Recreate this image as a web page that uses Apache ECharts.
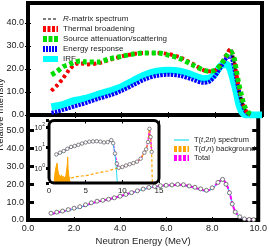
<!DOCTYPE html>
<html><head><meta charset="utf-8">
<script src="https://cdn.jsdelivr.net/npm/echarts@6/dist/echarts.min.js"></script>
<style>html,body{margin:0;padding:0;background:#fff}#c{width:270px;height:247px}</style>
</head><body><div id="c"></div>
<script>
// ---------- data ----------
const energyTop = [1.0,1.25,1.5,1.75,2.0,2.25,2.5,3.0,3.5,4.0,4.5,5.0,5.5,6.0,6.5,7.0,7.5,7.75,8.0,8.25,8.5,8.65,8.8,8.9,9.0,9.1,9.2,9.3,9.4,9.5,9.75,10.0];
const rMatrix   = [10.5,13,16,19.5,22,22.5,22,22.5,24,25.5,26.5,27,27,26.5,25,22.5,19.5,19,19.5,22.5,27,29,24,17,11,7,4,1.8,0.6,0.2,null,null];
const thermal   = [10.5,13,16,19.5,22,22.5,22,22.5,24,25.5,26.5,27,27,26.5,25,22.5,19.5,19,19.5,22,26.5,28.5,24,18,12.5,8,4.5,2,0.8,0.3,null,null];
const sourceAtt = [17.5,19,21,22,23,23.5,23,23,24.5,25.5,26.5,27,27,26,24.5,22,19.5,19,19.5,22,26,27.5,25,19.5,14,9.5,5.5,2.8,1.2,0.4,null,null];
const energyResp= [1,1.5,2.2,3,3.8,4.5,5.3,7,8.5,10.5,13,15.5,17,17.5,17,15.5,14,14.5,17,21,25,25.5,21,16,11,7,3.5,1.5,0.5,0.2,null,null];
const irf       = [3.5,4,4.5,5.5,6.3,6.8,7.3,9,10.5,12.3,15,17.5,19,19.5,19,17.5,15.8,16,18,21.5,22,19.5,14,10,5,2,0.5,0,0,0,0,0];

const energyBot = [1.0,1.25,1.5,1.75,2.0,2.25,2.5,2.75,3.0,3.25,3.5,3.75,4.0,4.25,4.5,4.75,5.0,5.25,5.5,5.75,6.0,6.25,6.5,6.75,7.0,7.25,7.5,7.75,8.0,8.25,8.45,8.6,8.75,8.87,9.0,9.2,9.4,9.6,9.8];
const measured  = [3.8,4.4,5.0,5.8,6.6,7.4,8.5,9.6,10.5,11.0,11.6,12.4,13.3,14.3,15.3,16.3,17.3,18.2,18.8,19.2,19.4,19.6,19.9,19.7,19.0,18.3,17.4,16.6,18.0,21.0,22.7,20.0,15.2,9.0,4.5,1.8,0.6,0.3,0.2];
const t2nSpec   = [3.2,3.9,4.6,5.4,6.2,7.0,8.0,9.1,10.0,10.7,11.4,12.2,13.1,14.1,15.1,16.1,17.1,17.9,18.5,18.9,19.2,19.3,19.5,19.3,18.7,17.8,16.8,16.0,17.5,20.6,22.3,20.2,15.5,9.5,4.8,1.6,0.4,0.1,0];
const totalSpec = [3.4,4.1,4.8,5.6,6.4,7.2,8.2,9.3,10.2,10.9,11.6,12.4,13.3,14.3,15.3,16.3,17.3,18.1,18.7,19.1,19.4,19.5,19.7,19.5,18.9,18.0,17.1,16.3,17.8,20.9,22.6,20.4,15.6,9.4,4.8,1.8,0.6,0.3,0.2];

const insetE       = [1.0,1.5,2.0,2.5,3.0,3.5,4.0,4.5,5.0,5.5,6.0,6.5,7.0,7.5,8.0,8.5,8.75,9.0,9.25,9.5,10.0,10.5,11.0,11.5,12.0,12.5,13.0,13.25,13.5,13.7,13.85,14.0];
const insetMeas    = [4.5,5.5,6.6,8.5,10.5,11.6,13.3,15.3,17.3,18.8,19.4,19.9,19,17.4,18,22.5,16,5,1.6,1.0,1.1,1.3,1.5,1.7,2.0,2.8,5.5,8,18,80,32,6];
const insetTotal   = [4.3,5.3,6.4,8.3,10.3,11.5,13.2,15.2,17.2,18.7,19.3,19.8,18.9,17.2,17.8,22.3,16,5,1.6,1.0,1.1,1.3,1.5,1.7,2.0,2.8,5.5,8,18,80,32,6];
const insetT2nE    = [1.0,1.5,2.0,2.5,3.0,3.5,4.0,4.5,5.0,5.5,6.0,6.5,7.0,7.5,8.0,8.5,8.75,9.0,9.15,9.25,9.35];
const insetT2n     = [4.1,5.1,6.2,8.1,10.1,11.3,13.0,15.0,17.0,18.5,19.1,19.6,18.7,17.0,17.6,22.0,15.5,4.5,1.2,0.4,0.1];
const bgNoiseE     = [0.7,0.8,0.9,1.0,1.1,1.2,1.3,1.4,1.5,1.6,1.7,1.8,1.9,2.0,2.1,2.2,2.3,2.4,2.5,2.55,2.6,2.7,2.8,2.9,3.0];
const bgNoise      = [0.2,0.5,0.9,1.1,1.7,0.8,0.5,0.4,0.6,0.35,0.45,0.3,0.4,0.3,0.35,0.3,0.4,0.5,1.5,3.4,0.9,0.4,0.3,0.35,0.3];
const bgE          = [3.0,3.5,4.0,4.5,5.0,5.5,6.0,6.5,7.0,7.5,8.0,8.5,9.0,9.5,10.0,10.5,11.0,11.5,12.0,12.5,13.0,13.25,13.5,13.7,13.85,14.0,14.1];
const bgDN         = [0.32,0.35,0.38,0.4,0.42,0.45,0.5,0.55,0.6,0.65,0.7,0.8,0.9,1.0,1.1,1.3,1.5,1.7,2.0,2.8,5.5,8,18,80,32,6,0.1];

const yTicksTop = [0,10,20,30,40];
const yTicksBot = [0,10,20,30,40,50];

// ---------- helpers ----------
const pairs = (xs, ys) => xs.map((x,i)=>[x, ys[i]]).filter(p => p[1] !== null);
const FONT = "Liberation Sans";
const TXT = '#222';
const noSym = {color:'rgba(0,0,0,0)', borderWidth:0, opacity:0};

const thinTick = {show:true, inside:true, length:3, lineStyle:{color:'#000', width:1}};
const thickTick = {show:true, inside:true, length:6, lineStyle:{color:'#000', width:3}};
const labY = vals => ({show:true, interval:0, hideOverlap:false, showMinLabel:true, showMaxLabel:true, customValues:vals,
  fontSize:9, color:TXT, fontFamily:FONT, margin:4, formatter:v=>v.toFixed(1)});

const chart = echarts.init(document.getElementById('c'));
chart.setOption({
  animation:false,
  backgroundColor:'#fff',
  textStyle:{fontFamily:FONT},
  grid:[
    {left:28, right:8, top:3, height:112, show:true, borderColor:'#000', borderWidth:4, backgroundColor:'transparent'},
    {left:28, right:8, top:115, height:111, show:true, borderColor:'#000', borderWidth:4, backgroundColor:'transparent'},
    {left:49, width:110, top:120.5, height:62.5, show:true, borderWidth:0, backgroundColor:'#fff'},
    {left:28, right:8, top:3, height:223, show:false, outerBoundsMode:'none'}
  ],
  xAxis:[
    {gridIndex:0, type:'value', position:'bottom', min:0, max:10, interval:2, axisLine:{show:false}, axisTick:thinTick, axisLabel:{show:false}, splitLine:{show:false}},
    {gridIndex:0, type:'value', position:'top', min:0, max:10, interval:2, axisLine:{show:false}, axisTick:thinTick, axisLabel:{show:false}, splitLine:{show:false}},
    {gridIndex:1, type:'value', position:'bottom', min:0, max:10, interval:2, axisLine:{show:false}, axisTick:thinTick,
      axisLabel:{fontSize:9, color:TXT, fontFamily:FONT, margin:4, formatter:v=>v.toFixed(1)}, splitLine:{show:false},
      name:'Neutron Energy (MeV)', nameLocation:'middle', nameGap:16, nameTextStyle:{fontSize:9.5, color:TXT, fontFamily:FONT}},
    {gridIndex:2, type:'value', position:'bottom', min:0, max:15, interval:5, axisLine:{show:false}, axisTick:thinTick,
      axisLabel:{fontSize:8, color:TXT, fontFamily:FONT, margin:4}, splitLine:{show:false}},
    {gridIndex:2, type:'value', position:'top', min:0, max:15, interval:5, axisLine:{show:false}, axisTick:thinTick, axisLabel:{show:false}, splitLine:{show:false}},
    {gridIndex:3, type:'value', min:0, max:1, axisLine:{show:false}, axisTick:{show:false}, axisLabel:{show:false}, splitLine:{show:false}}
  ],
  yAxis:[
    {gridIndex:0, type:'value', position:'left', min:0, max:48.7, interval:10, axisLine:{show:false},
      axisTick:Object.assign({customValues:yTicksTop}, thinTick), axisLabel:labY(yTicksTop), splitLine:{show:false}},
    {gridIndex:0, type:'value', position:'right', min:0, max:48.7, interval:10, axisLine:{show:false},
      axisTick:Object.assign({customValues:yTicksTop}, thinTick), axisLabel:{show:false}, splitLine:{show:false}},
    {gridIndex:1, type:'value', position:'left', min:0, max:58.7, interval:10, axisLine:{show:false},
      axisTick:Object.assign({customValues:yTicksBot}, thickTick), axisLabel:labY(yTicksBot), splitLine:{show:false}},
    {gridIndex:1, type:'value', position:'right', min:0, max:58.7, interval:10, axisLine:{show:false},
      axisTick:Object.assign({customValues:yTicksBot}, thickTick), axisLabel:{show:false}, splitLine:{show:false}},
    {gridIndex:2, type:'log', position:'left', logBase:10, min:0.182, max:204, axisLine:{show:false},
      axisTick:{show:true, inside:false, length:3, lineStyle:{color:'#000', width:3}},
      axisLabel:{color:TXT, margin:4, formatter:v=>{const l=Math.log10(v); const e=Math.round(l); if(Math.abs(l-e)>1e-4) return ''; return '{b|10}{s|'+e+'}';},
        rich:{b:{fontSize:7, color:TXT, fontFamily:FONT, lineHeight:10, verticalAlign:'bottom'}, s:{fontSize:5, color:TXT, fontFamily:FONT, lineHeight:10, verticalAlign:'top'}}},
      splitLine:{show:false}},
    {gridIndex:3, type:'value', position:'left', min:0, max:1, axisLine:{show:false}, axisTick:{show:false}, axisLabel:{show:false}, splitLine:{show:false},
      name:'Relative Intensity', nameLocation:'middle', nameGap:23, nameMoveOverlap:false, nameTextStyle:{fontSize:9.5, color:TXT, fontFamily:FONT}}
  ],
  legend:[
    {orient:'vertical', left:35, top:9, itemWidth:15, itemHeight:7, itemGap:0,
      textStyle:{fontSize:8, color:TXT, fontFamily:FONT, lineHeight:10, rich:{i:{fontStyle:'italic', fontSize:8, color:TXT, fontFamily:FONT}}},
      formatter:n=> n==='R-matrix spectrum' ? '{i|R}-matrix spectrum' : n,
      data:[
        {name:'R-matrix spectrum', lineStyle:{width:1.5, type:[3,2], color:'#555'}, itemStyle:noSym},
        {name:'Thermal broadening', lineStyle:{width:6, type:[3,1.5], color:'#ff0000'}, itemStyle:noSym},
        {name:'Source attenuation/scattering', lineStyle:{width:6, type:[4,1.5], color:'#00dd00'}, itemStyle:noSym},
        {name:'Energy response', lineStyle:{width:6, type:[2,1], color:'#0000ff'}, itemStyle:noSym},
        {name:'IRF', lineStyle:{width:6, type:'solid', color:'#00ffff'}, itemStyle:noSym}
      ]},
    {orient:'vertical', left:166, top:130.5, itemWidth:15, itemHeight:6, itemGap:0,
      textStyle:{fontSize:7.5, color:TXT, fontFamily:FONT, lineHeight:9, rich:{i:{fontStyle:'italic', fontSize:7.5, color:TXT, fontFamily:FONT}}},
      formatter:n=> n==='T(t,2n) spectrum' ? 'T({i|t},2{i|n}) spectrum' : (n==='T(d,n) background' ? 'T({i|d},{i|n}) background' : n),
      data:[
        {name:'T(t,2n) spectrum', lineStyle:{width:1.2, type:'solid', color:'#22ddee'}, itemStyle:noSym},
        {name:'T(d,n) background', lineStyle:{width:6, type:[3,1.5], color:'#ffa500'}, itemStyle:noSym},
        {name:'Total', lineStyle:{width:6, type:[3,1.5], color:'#ff00ff'}, itemStyle:noSym}
      ]}
  ],
  graphic:[
    {type:'rect', shape:{x:49, y:120.5, width:110, height:62.5, r:5}, style:{fill:'none', stroke:'#000', lineWidth:3}, z:100}
  ],
  series:[
    // top panel
    {name:'IRF', type:'line', xAxisIndex:0, yAxisIndex:0, data:pairs(energyTop, irf), symbol:'none', smooth:0.3,
      lineStyle:{color:'#00ffff', width:7}, z:2},
    {name:'Energy response', type:'line', xAxisIndex:0, yAxisIndex:0, data:pairs(energyTop, energyResp), symbol:'none', smooth:0.3,
      lineStyle:{color:'#0000ff', width:4, type:[2.5,1]}, z:3},
    {name:'R-matrix spectrum', type:'line', xAxisIndex:0, yAxisIndex:0, data:pairs(energyTop, rMatrix), symbol:'none', smooth:0.3,
      lineStyle:{color:'#111', width:2.5, type:[3,3]}, z:4},
    {name:'Thermal broadening', type:'line', xAxisIndex:0, yAxisIndex:0, data:pairs(energyTop, thermal), symbol:'none', smooth:0.3,
      lineStyle:{color:'#ff0000', width:4, type:[3,3]}, z:5},
    {name:'Source attenuation/scattering', type:'line', xAxisIndex:0, yAxisIndex:0, data:pairs(energyTop, sourceAtt), symbol:'none', smooth:0.3,
      lineStyle:{color:'#00dd00', width:5, type:[4,3]}, z:6},
    // bottom panel
    {name:'T(t,2n) spectrum', type:'line', xAxisIndex:2, yAxisIndex:2, data:pairs(energyBot, t2nSpec), symbol:'none', smooth:0.3,
      lineStyle:{color:'#22ddee', width:1.2}, z:3},
    {name:'Total', type:'line', xAxisIndex:2, yAxisIndex:2, data:pairs(energyBot, totalSpec), symbol:'none', smooth:0.3,
      lineStyle:{color:'#ff00ff', width:2, type:[4,1.5]}, z:4},
    {name:'Measured', type:'line', xAxisIndex:2, yAxisIndex:2, data:pairs(energyBot, measured), symbol:'circle', symbolSize:4,
      lineStyle:{width:0}, itemStyle:{color:'#fff', borderColor:'#555', borderWidth:0.8}, z:5},
    // inset
    {name:'T(d,n) background', type:'line', xAxisIndex:3, yAxisIndex:4, data:pairs(bgNoiseE, bgNoise), symbol:'none',
      lineStyle:{color:'#ffa500', width:1}, areaStyle:{color:'#ffa500', opacity:1, origin:'start'}, z:3},
    {name:'Total', type:'line', xAxisIndex:3, yAxisIndex:4, data:pairs(insetE, insetTotal), symbol:'none',
      lineStyle:{color:'#ff00ff', width:1.5, type:[3,1]}, z:3},
    {name:'T(t,2n) spectrum', type:'line', xAxisIndex:3, yAxisIndex:4, data:pairs(insetT2nE, insetT2n), symbol:'none',
      lineStyle:{color:'#22ddee', width:1}, z:4},
    {name:'T(d,n) background', type:'line', xAxisIndex:3, yAxisIndex:4, data:pairs(bgE, bgDN), symbol:'none',
      lineStyle:{color:'#ffa500', width:1.2, type:[3,2]}, z:4},
    {name:'Measured', type:'line', xAxisIndex:3, yAxisIndex:4, data:pairs(insetE, insetMeas), symbol:'circle', symbolSize:3.5,
      lineStyle:{width:0}, itemStyle:{color:'#fff', borderColor:'#555', borderWidth:0.7}, z:5}
  ]
});
</script>
</body></html>
